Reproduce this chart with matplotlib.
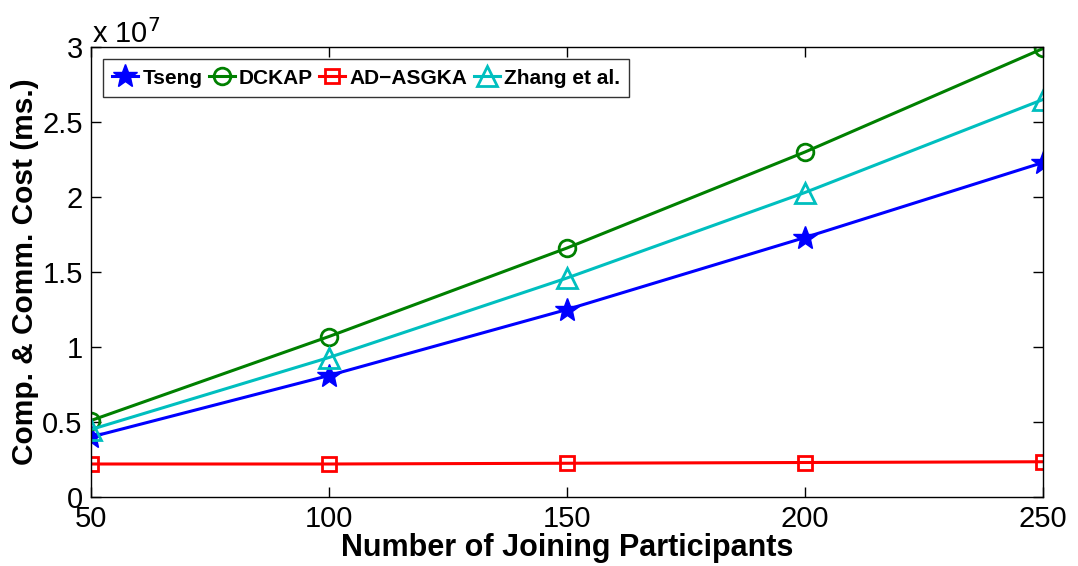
import numpy as np
import matplotlib.pyplot as plt

plt.rcParams['font.family'] = ['Liberation Sans', 'DejaVu Sans']

participants = [50, 100, 150, 200, 250]
# costs in units of 1e7 ms
tseng = [0.40, 0.81, 1.25, 1.73, 2.23]
dckap = [0.51, 1.07, 1.66, 2.30, 2.99]
ad_asgka = [0.22, 0.22, 0.225, 0.23, 0.235]
zhang = [0.45, 0.93, 1.46, 2.03, 2.65]

fig = plt.figure(figsize=(10.78, 5.66), dpi=100)
ax = fig.add_axes([91/1078, 69/566, 952/1078, 450/566])

ax.plot(participants, tseng, '-', color=(0, 0, 1), lw=2.2, marker='*', ms=18,
        mfc=(0, 0, 1), mec=(0, 0, 1), label='Tseng')
ax.plot(participants, dckap, '-', color=(0, 0.5, 0), lw=2.2, marker='o', ms=12,
        mfc='none', mew=2, label='DCKAP')
ax.plot(participants, ad_asgka, '-', color=(1, 0, 0), lw=2.2, marker='s', ms=10,
        mfc='none', mew=2, label='AD\u2212ASGKA')
ax.plot(participants, zhang, '-', color=(0, 0.75, 0.75), lw=2.2, marker='^', ms=14,
        mfc='none', mew=2, label='Zhang et al.')

ax.set_xlim(50, 250)
ax.set_ylim(0, 3)
ax.set_xticks([50, 100, 150, 200, 250])
ax.set_yticks([0, 0.5, 1, 1.5, 2, 2.5, 3])
ax.set_yticklabels(['0', '0.5', '1', '1.5', '2', '2.5', '3'])
ax.tick_params(direction='in', length=7, width=1, top=True, right=True,
               labelsize=21, pad=6)
for s in ax.spines.values():
    s.set_linewidth(1)

ax.set_xlabel('Number of Joining Participants', fontsize=22, fontweight='bold', labelpad=0)
ax.set_ylabel('Comp. & Comm. Cost (ms.)', fontsize=21.5, fontweight='bold', labelpad=2)

ax.text(0.001, 0.995, r'x 10$^{7}$', transform=ax.transAxes, fontsize=21,
        ha='left', va='bottom')

leg = ax.legend(loc='upper left', ncol=4, fontsize=15, frameon=True,
                fancybox=False, edgecolor='black', handlelength=1.25,
                handletextpad=0.2, columnspacing=0.3, borderpad=0.45,
                borderaxespad=0, bbox_to_anchor=(0.0126, 0.973))
leg.get_frame().set_linewidth(1)
for t in leg.get_texts():
    t.set_fontweight('bold')

fig.savefig('out.png', dpi=100)
